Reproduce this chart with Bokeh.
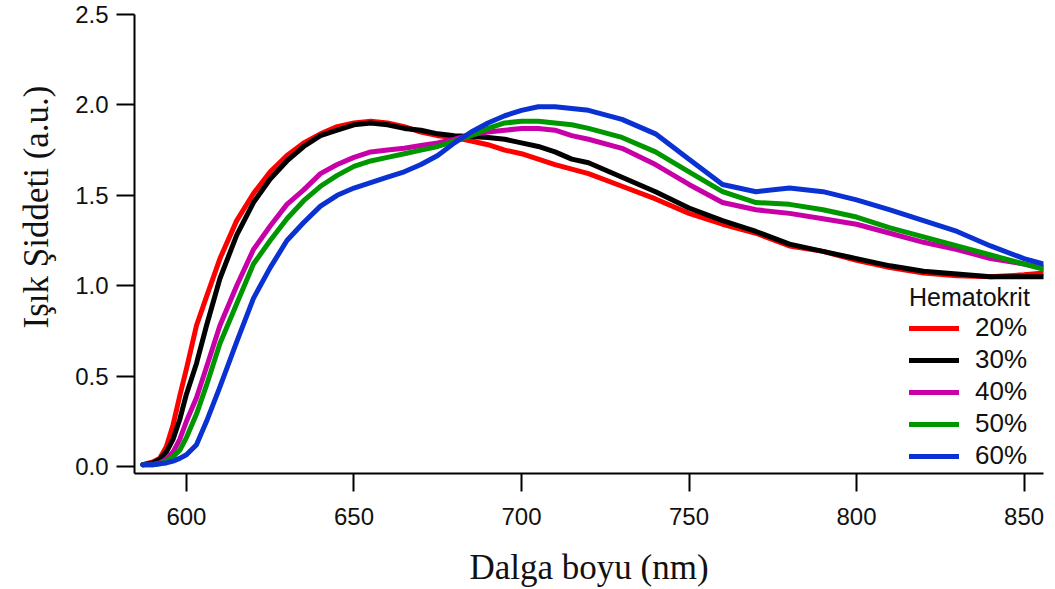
import math
from bokeh.plotting import figure
from bokeh.models import Range1d, FixedTicker, Legend, LegendItem, Title, NumeralTickFormatter
from bokeh.embed import file_html
from bokeh.resources import INLINE

# Wavelength (nm)
wavelength = [587, 590, 592, 594, 596, 598, 600, 603, 606, 610, 615, 620, 625, 630, 635, 640,
              645, 650, 655, 660, 665, 670, 675, 680, 685, 690, 695, 700, 705, 710, 715,
              720, 730, 740, 750, 760, 770, 780, 790, 800, 810, 820, 830, 840, 850, 856]

# Light intensity (a.u.) for each hematocrit level
hct_20 = [0.01, 0.025, 0.045, 0.11, 0.23, 0.39, 0.54, 0.78, 0.94, 1.15, 1.36, 1.51, 1.63, 1.72, 1.79, 1.84,
          1.88, 1.90, 1.91, 1.90, 1.88, 1.85, 1.83, 1.82, 1.80, 1.78, 1.75, 1.73, 1.70, 1.67, 1.645,
          1.62, 1.55, 1.48, 1.40, 1.34, 1.29, 1.22, 1.19, 1.14, 1.10, 1.07, 1.055, 1.05, 1.06, 1.07]
hct_30 = [0.01, 0.02, 0.04, 0.08, 0.15, 0.26, 0.40, 0.57, 0.78, 1.04, 1.28, 1.46, 1.59, 1.69, 1.77, 1.83,
          1.86, 1.89, 1.90, 1.89, 1.87, 1.86, 1.84, 1.83, 1.825, 1.82, 1.81, 1.79, 1.77, 1.74, 1.70,
          1.68, 1.60, 1.52, 1.43, 1.36, 1.30, 1.23, 1.19, 1.15, 1.11, 1.08, 1.065, 1.05, 1.05, 1.05]
hct_40 = [0.01, 0.012, 0.02, 0.04, 0.08, 0.15, 0.25, 0.38, 0.55, 0.78, 1.00, 1.20, 1.33, 1.45, 1.53, 1.62,
          1.67, 1.71, 1.74, 1.75, 1.76, 1.775, 1.79, 1.81, 1.835, 1.85, 1.86, 1.87, 1.87, 1.86, 1.83,
          1.81, 1.76, 1.67, 1.56, 1.46, 1.42, 1.40, 1.37, 1.34, 1.29, 1.24, 1.20, 1.15, 1.12, 1.10]
hct_50 = [0.01, 0.01, 0.015, 0.03, 0.055, 0.09, 0.16, 0.29, 0.45, 0.68, 0.90, 1.12, 1.25, 1.37, 1.47, 1.55,
          1.61, 1.66, 1.69, 1.71, 1.73, 1.75, 1.77, 1.80, 1.83, 1.87, 1.90, 1.91, 1.91, 1.90, 1.89,
          1.87, 1.82, 1.74, 1.63, 1.52, 1.46, 1.45, 1.42, 1.38, 1.32, 1.27, 1.22, 1.17, 1.12, 1.09]
hct_60 = [0.01, 0.01, 0.015, 0.02, 0.03, 0.045, 0.065, 0.12, 0.25, 0.44, 0.69, 0.93, 1.10, 1.25, 1.35, 1.44,
          1.50, 1.54, 1.57, 1.60, 1.63, 1.67, 1.72, 1.79, 1.85, 1.90, 1.94, 1.97, 1.99, 1.99, 1.98,
          1.97, 1.92, 1.84, 1.70, 1.56, 1.52, 1.54, 1.52, 1.475, 1.42, 1.36, 1.30, 1.22, 1.15, 1.12]

series_labels = ["20%", "30%", "40%", "50%", "60%"]
series_values = [hct_20, hct_30, hct_40, hct_50, hct_60]
series_colors = ["#ff0000", "#000000", "#c800a8", "#009600", "#0a32d2"]

x_ticks = [600, 650, 700, 750, 800, 850]
y_ticks = [0.0, 0.5, 1.0, 1.5, 2.0, 2.5]

p = figure(width=1055, height=589, output_backend="svg", toolbar_location=None,
           x_range=Range1d(584.5, 855.8), y_range=Range1d(-0.0386, 2.5),
           min_border_left=134, min_border_right=12, min_border_top=14, min_border_bottom=115)
p.outline_line_color = None
p.xgrid.visible = False
p.ygrid.visible = False
p.background_fill_color = "white"
p.border_fill_color = "white"

items = []
for lab, vals, col in zip(series_labels, series_values, series_colors):
    r = p.line(wavelength, vals, line_color=col, line_width=5, line_join="round", line_cap="round")
    items.append(LegendItem(label=lab, renderers=[r]))

for ax in (p.xaxis[0], p.yaxis[0]):
    ax.axis_line_width = 2
    ax.axis_line_color = "black"
    ax.major_tick_line_width = 2
    ax.major_tick_line_color = "black"
    ax.major_tick_out = 18
    ax.major_tick_in = 0
    ax.minor_tick_line_color = None
    ax.major_label_text_font = "Liberation Sans"
    ax.major_label_text_font_size = "24px"
    ax.major_label_text_color = "#111111"

p.xaxis.ticker = FixedTicker(ticks=x_ticks)
p.yaxis.ticker = FixedTicker(ticks=y_ticks)
p.yaxis.formatter = NumeralTickFormatter(format="0.0")
p.xaxis.major_label_standoff = 16
p.yaxis.major_label_standoff = 8

p.xaxis.axis_label = "Dalga boyu (nm)"
p.xaxis.axis_label_text_font = "Liberation Serif"
p.xaxis.axis_label_text_font_size = "35px"
p.xaxis.axis_label_text_font_style = "normal"
p.xaxis.axis_label_text_color = "#111111"
p.xaxis.axis_label_standoff = 20

ytitle = Title(text="Işık Şiddeti (a.u.)", align="right", vertical_align="top", offset=71,
               text_font="Liberation Serif", text_font_size="35px", text_font_style="normal",
               text_color="#111111", standoff=30)
p.add_layout(ytitle, "left")

legend = Legend(items=items, title="Hematokrit", location=(775, 2))
legend.title_text_font = "Liberation Sans"
legend.title_text_font_size = "25px"
legend.title_text_font_style = "normal"
legend.title_text_color = "#111111"
legend.title_standoff = 0
legend.label_text_font = "Liberation Sans"
legend.label_text_font_size = "26px"
legend.label_text_color = "#111111"
legend.glyph_width = 50
legend.glyph_height = 20
legend.label_standoff = 16
legend.spacing = 1
legend.padding = 3
legend.margin = 0
legend.border_line_color = None
legend.background_fill_color = "white"
legend.background_fill_alpha = 1.0
p.add_layout(legend)

open("out.html", "w").write(file_html(p, INLINE))
